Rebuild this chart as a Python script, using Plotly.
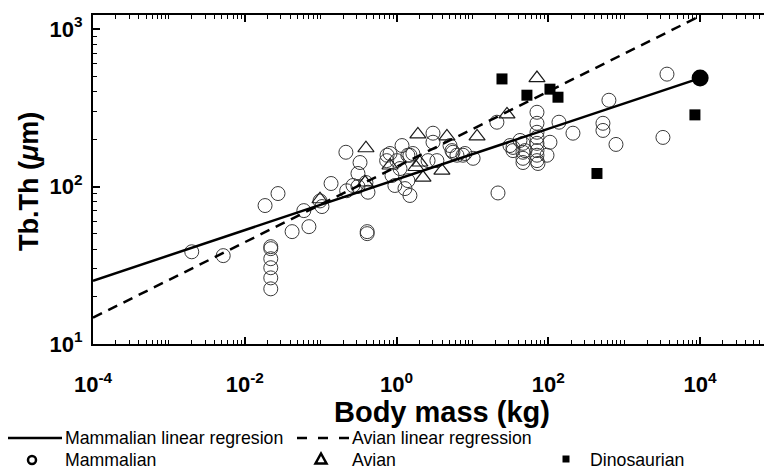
import plotly.graph_objects as go

# ---------------- data ----------------
mammal_mass = [0.0020, 0.0052, 0.0185, 0.022, 0.022, 0.022, 0.022, 0.022, 0.022, 0.0274,
               0.042, 0.060, 0.070, 0.104, 0.098, 0.137, 0.215, 0.22, 0.33, 0.31,
               0.267, 0.41, 0.41, 0.395, 0.31, 0.42, 1.18, 0.82, 0.74, 1.41,
               1.01, 1.11, 0.87, 1.41, 0.95, 1.29, 1.50, 0.75, 1.50, 1.64,
               3.02, 3.02, 3.40, 5.37, 6.25, 7.96, 10.2, 5.06, 5.53, 7.5,
               21.0, 21.7, 31.2, 42.3, 49.2, 70.8, 70.8, 70.8, 70.8, 70.8,
               46.3, 34.2, 70.8, 70.8, 70.8, 73.0, 105, 96, 46.3, 46.3,
               46.3, 34.2, 138, 211, 628, 524, 524, 778, 3656, 3236, 2.6]
mammal_tbth = [38.5, 36.4, 75.7, 41.5, 40.3, 34.8, 30.5, 26.3, 22.4, 90.2,
               51.7, 70.3, 55.6, 74.6, 81, 104.5, 165, 94, 142, 121,
               101.5, 51.7, 50.2, 106, 100, 92, 182, 162, 146, 158,
               146, 130, 117.5, 109, 101.5, 97, 87.7, 158, 158, 162,
               218, 191, 146, 169, 158, 162, 151, 182, 165, 158,
               256, 91, 182, 196, 169, 205, 188, 169, 158, 146,
               151, 169, 296, 252, 221, 140, 191, 158, 188, 165,
               142, 177, 256, 218, 353, 252, 227, 185, 517, 205, 146]

avian_mass = [0.395, 1.91, 4.61, 11.5, 28.5, 70.8, 2.23, 3.96, 0.82, 0.098, 2.03, 0.385, 1.8]
avian_tbth = [175, 214, 208, 208, 287, 488, 114, 126, 136, 83, 142, 106, 133]

dino_mass = [24.5, 52.2, 105, 134, 437, 8540]
dino_tbth = [482, 380, 415, 369, 121, 285]

special_mass = [1.0e4]
special_tbth = [488]

fit_mass = [1e-4, 1e4]
mammal_fit = [25.2, 488]
avian_fit = [14.7, 1210]

x_tickvals = [1e-4, 1e-2, 1, 1e2, 1e4]
x_ticktext = ["<b>10<sup>-4</sup></b>", "<b>10<sup>-2</sup></b>", "<b>10<sup>0</sup></b>",
              "<b>10<sup>2</sup></b>", "<b>10<sup>4</sup></b>"]
y_tickvals = [10, 100, 1000]
y_ticktext = ["<b>10<sup>1</sup></b>", "<b>10<sup>2</sup></b>", "<b>10<sup>3</sup></b>"]

# ---------------- figure ----------------
fig = go.Figure()
fig.add_trace(go.Scatter(x=mammal_mass, y=mammal_tbth, mode="markers",
                         marker=dict(symbol="circle-open", size=14, color="#3a3a3a",
                                     line=dict(width=1)), showlegend=False))
fig.add_trace(go.Scatter(x=avian_mass, y=avian_tbth, mode="markers",
                         marker=dict(symbol="triangle-up-open", size=14, color="#1a1a1a",
                                     line=dict(width=1.2)), showlegend=False))
fig.add_trace(go.Scatter(x=dino_mass, y=dino_tbth, mode="markers",
                         marker=dict(symbol="square", size=11, color="black"), showlegend=False))
fig.add_trace(go.Scatter(x=special_mass, y=special_tbth, mode="markers",
                         marker=dict(symbol="circle", size=17, color="black"), showlegend=False))
fig.add_trace(go.Scatter(x=fit_mass, y=mammal_fit, mode="lines",
                         line=dict(color="black", width=2.5), showlegend=False))
fig.add_trace(go.Scatter(x=fit_mass, y=avian_fit, mode="lines",
                         line=dict(color="black", width=2.5, dash="10px,7px"), showlegend=False))

x_minor = [m * 10.0 ** e for e in range(-4, 5) for m in range(1, 10)]
y_minor = [m * 10.0 ** e for e in range(1, 4) for m in range(1, 10)]

tick_font = dict(family="Liberation Sans, Arial, sans-serif", size=22, color="black")

fig.update_xaxes(type="log", range=[-4, 4.947], tickmode="array", tickvals=x_tickvals,
                 ticktext=x_ticktext, ticks="inside", ticklen=7, tickwidth=1.5, tickcolor="black",
                 showline=True, linewidth=2, linecolor="black", mirror="allticks",
                 showgrid=False, zeroline=False, tickfont=tick_font, ticklabelstandoff=20,
                 minor=dict(tickmode="array", tickvals=x_minor, ticks="inside", ticklen=4,
                            tickwidth=1.2, tickcolor="black", showgrid=False))
fig.update_yaxes(type="log", range=[1, 3.089], tickmode="array", tickvals=y_tickvals,
                 ticktext=y_ticktext, ticks="inside", ticklen=7, tickwidth=1.5, tickcolor="black",
                 showline=True, linewidth=2, linecolor="black", mirror=False,
                 showgrid=False, zeroline=False, tickfont=tick_font, ticklabelstandoff=4,
                 minor=dict(tickmode="array", tickvals=y_minor, ticks="inside", ticklen=4,
                            tickwidth=1.2, tickcolor="black", showgrid=False))

# the page body has an 8px margin, so the figure is sized to end at the window edge
OFF = 8
W, H = 772 - OFF, 472 - OFF
PL, PR, PT, PB = 93, 772, 15, 344          # plot-area edges in window pixels
L, T = PL - OFF, PT - OFF
R, B = 0, H - (PB - OFF)
pw, ph = PR - PL, PB - PT


def px_x(p):
    return (p - PL) / pw


def px_y(p):
    return (PB - p) / ph


title_font = dict(family="Liberation Sans, Arial, sans-serif", color="black")
leg_font = dict(family="Liberation Sans, Arial, sans-serif", size=17.7, color="black")

annotations = [
    dict(text="<b>Body mass (kg)</b>", x=px_x(442), y=px_y(412), xref="paper", yref="paper",
         showarrow=False, xanchor="center", yanchor="middle", font=dict(size=29, **title_font)),
    dict(text="<b>Tb.Th (<i>μ</i>m)</b>", x=px_x(29), y=px_y(182), xref="paper", yref="paper",
         showarrow=False, xanchor="center", yanchor="middle", textangle=-90,
         font=dict(size=27, **title_font)),
]
legend_text = [
    ("Mammalian linear regresion", 63, 438),
    ("Avian linear regression", 350, 438),
    ("Mammalian", 63, 460),
    ("Avian", 350, 460),
    ("Dinosaurian", 588, 460),
]
for txt, xp, yp in legend_text:
    annotations.append(dict(text=txt, x=px_x(xp), y=px_y(yp), xref="paper", yref="paper",
                            showarrow=False, xanchor="left", yanchor="middle", font=leg_font))

shapes = [
    dict(type="line", xref="paper", yref="paper", x0=px_x(8), x1=px_x(62),
         y0=px_y(438), y1=px_y(438), line=dict(color="black", width=2.5)),
    dict(type="line", xref="paper", yref="paper", x0=px_x(297), x1=px_x(349),
         y0=px_y(438), y1=px_y(438), line=dict(color="black", width=2.5, dash="10px,11px")),
    dict(type="circle", xref="paper", yref="paper", xsizemode="pixel", ysizemode="pixel",
         xanchor=px_x(32), yanchor=px_y(460), x0=-4, x1=4, y0=-4, y1=4,
         line=dict(color="black", width=2.5)),
    dict(type="path", xref="paper", yref="paper", xsizemode="pixel", ysizemode="pixel",
         xanchor=px_x(321), yanchor=px_y(459), path="M -5.5,-4.5 L 5.5,-4.5 L 0,5.5 Z",
         line=dict(color="black", width=2.5)),
    dict(type="rect", xref="paper", yref="paper", xsizemode="pixel", ysizemode="pixel",
         xanchor=px_x(566), yanchor=px_y(459), x0=-3.5, x1=3.5, y0=-3.5, y1=3.5,
         fillcolor="black", line=dict(color="black", width=0)),
]

fig.update_layout(width=W, height=H, margin=dict(l=L, r=R, t=T, b=B, pad=0),
                  paper_bgcolor="white", plot_bgcolor="white", showlegend=False,
                  annotations=annotations, shapes=shapes)

fig.write_html("out.html")
